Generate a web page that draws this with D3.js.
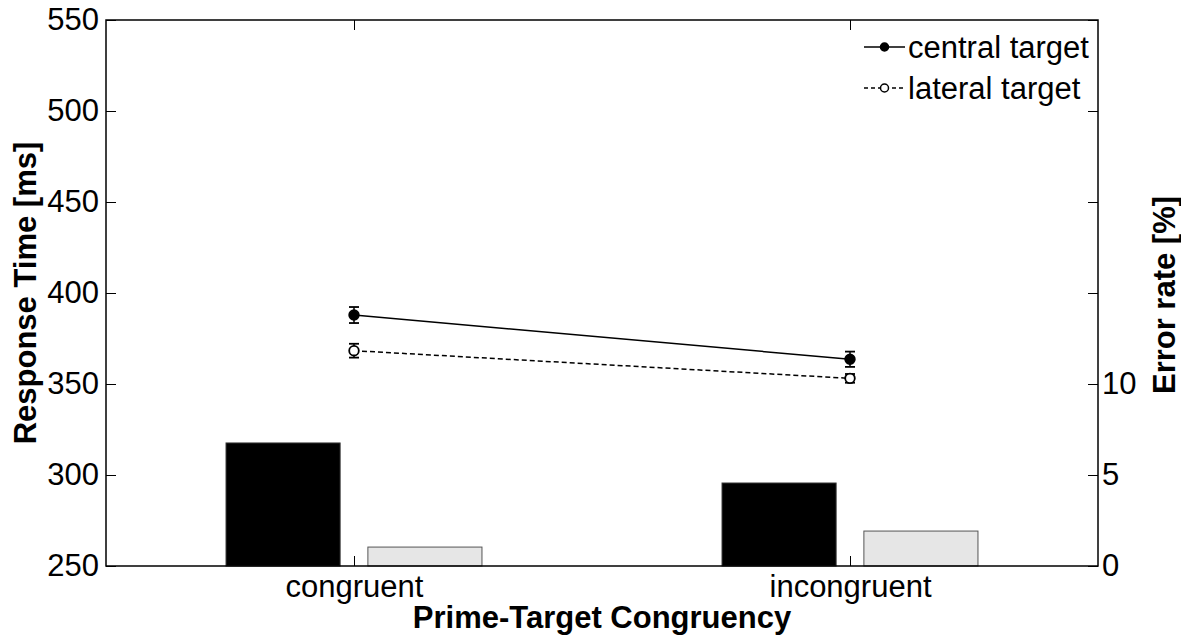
<!DOCTYPE html>
<html>
<head>
<meta charset="utf-8">
<script src="https://cdn.jsdelivr.net/npm/d3@7"></script>
<style>
  body { margin: 0; background: #fff; }
  svg text { font-family: "Liberation Sans", Arial, sans-serif; fill: #000; }
</style>
</head>
<body>
<script>
// data
var categories = ["congruent", "incongruent"];
var rtCentral = [387.9, 363.6];
var rtCentralErr = [4.4, 4.2];
var rtLateral = [368.3, 353.1];
var rtLateralErr = [3.8, 2.4];
var errCentral = [6.76, 4.56];
var errLateral = [1.04, 1.92];
var leftTicks = [250, 300, 350, 400, 450, 500, 550];
var rightTicks = [0, 5, 10];

var W = 1181, H = 644;
var plotL = 106, plotR = 1098, plotT = 20, plotB = 566;
var fs = "31px";

var svg = d3.select("body").append("svg")
    .attr("width", W)
    .attr("height", H);

var x = d3.scaleLinear().domain([0.5, 2.5]).range([plotL, plotR]);
var yL = d3.scaleLinear().domain([250, 550]).range([plotB, plotT]);
var yR = d3.scaleLinear().domain([0, 30]).range([plotB, plotT]);

var barOff = 0.143, barW = 0.23;

// bars (error rate, right axis)
var bars = svg.append("g");
categories.forEach(function(c, i) {
    var cx = i + 1;
    bars.append("rect")
        .attr("x", x(cx - barOff - barW / 2))
        .attr("width", x(cx - barOff + barW / 2) - x(cx - barOff - barW / 2))
        .attr("y", yR(errCentral[i]))
        .attr("height", yR(0) - yR(errCentral[i]))
        .attr("fill", "#000")
        .attr("stroke", "#333")
        .attr("stroke-width", 1);
    bars.append("rect")
        .attr("x", x(cx + barOff - barW / 2))
        .attr("width", x(cx + barOff + barW / 2) - x(cx + barOff - barW / 2))
        .attr("y", yR(errLateral[i]))
        .attr("height", yR(0) - yR(errLateral[i]))
        .attr("fill", "#e6e6e6")
        .attr("stroke", "#555")
        .attr("stroke-width", 1);
});

// axes box
svg.append("rect")
    .attr("x", plotL).attr("y", plotT)
    .attr("width", plotR - plotL).attr("height", plotB - plotT)
    .attr("fill", "none")
    .attr("stroke", "#000")
    .attr("stroke-width", 1.5);

// left axis
svg.append("g")
    .attr("transform", "translate(" + plotL + ",0)")
    .call(d3.axisLeft(yL).tickValues(leftTicks).tickSize(-10).tickPadding(7))
    .call(function(g) {
        g.select(".domain").remove();
        g.selectAll("text").style("font-size", fs);
    });

// mirrored ticks on right side
svg.append("g")
    .attr("transform", "translate(" + plotR + ",0)")
    .call(d3.axisRight(yL).tickValues(leftTicks).tickSize(-10).tickFormat(""))
    .call(function(g) { g.select(".domain").remove(); });

// right axis (error rate)
svg.append("g")
    .attr("transform", "translate(" + plotR + ",0)")
    .call(d3.axisRight(yR).tickValues(rightTicks).tickSize(-10).tickPadding(4))
    .call(function(g) {
        g.select(".domain").remove();
        g.selectAll("text").style("font-size", fs);
    });

// bottom axis
svg.append("g")
    .attr("transform", "translate(0," + plotB + ")")
    .call(d3.axisBottom(x).tickValues([1, 2]).tickSize(-10).tickPadding(9)
        .tickFormat(function(d) { return categories[d - 1]; }))
    .call(function(g) {
        g.select(".domain").remove();
        g.selectAll("text").style("font-size", fs);
    });

// top ticks
svg.append("g")
    .attr("transform", "translate(0," + plotT + ")")
    .call(d3.axisTop(x).tickValues([1, 2]).tickSize(-10).tickFormat(""))
    .call(function(g) { g.select(".domain").remove(); });

// axis titles
svg.append("text")
    .attr("x", (plotL + plotR) / 2)
    .attr("y", 628)
    .attr("text-anchor", "middle")
    .style("font-size", fs)
    .style("font-weight", "bold")
    .text("Prime-Target Congruency");

svg.append("text")
    .attr("transform", "translate(36," + ((plotT + plotB) / 2) + ") rotate(-90)")
    .attr("text-anchor", "middle")
    .style("font-size", fs)
    .style("font-weight", "bold")
    .text("Response Time [ms]");

svg.append("text")
    .attr("transform", "translate(1175,295) rotate(-90)")
    .attr("text-anchor", "middle")
    .style("font-size", fs)
    .style("font-weight", "bold")
    .text("Error rate [%]");

// response time lines
var series = [
    { vals: rtCentral, err: rtCentralErr, dash: null, fill: "#000" },
    { vals: rtLateral, err: rtLateralErr, dash: "5,3", fill: "#fff" }
];
var line = d3.line()
    .x(function(d, i) { return x(i + 1); })
    .y(function(d) { return yL(d); });

series.forEach(function(s) {
    var g = svg.append("g");
    g.append("path")
        .attr("d", line(s.vals))
        .attr("fill", "none")
        .attr("stroke", "#000")
        .attr("stroke-width", 1.5)
        .attr("stroke-dasharray", s.dash);
    s.vals.forEach(function(v, i) {
        var cx = x(i + 1);
        var y1 = yL(v + s.err[i]), y2 = yL(v - s.err[i]);
        g.append("line").attr("x1", cx).attr("x2", cx).attr("y1", y1).attr("y2", y2)
            .attr("stroke", "#000").attr("stroke-width", 1.5);
        [y1, y2].forEach(function(yy) {
            g.append("line").attr("x1", cx - 5).attr("x2", cx + 5).attr("y1", yy).attr("y2", yy)
                .attr("stroke", "#000").attr("stroke-width", 1.8);
        });
        g.append("circle").attr("cx", cx).attr("cy", yL(v)).attr("r", 4.8)
            .attr("fill", s.fill).attr("stroke", "#000").attr("stroke-width", 1.8);
    });
});

// legend
var legend = [
    { label: "central target", dash: null, fill: "#000", y: 47 },
    { label: "lateral target", dash: "4,3", fill: "#fff", y: 88 }
];
legend.forEach(function(l) {
    svg.append("line").attr("x1", 864).attr("x2", 905).attr("y1", l.y).attr("y2", l.y)
        .attr("stroke", "#000").attr("stroke-width", 1.5).attr("stroke-dasharray", l.dash);
    svg.append("circle").attr("cx", 884.5).attr("cy", l.y).attr("r", 4)
        .attr("fill", l.fill).attr("stroke", "#000").attr("stroke-width", 1.5);
    svg.append("text").attr("x", 908).attr("y", l.y).attr("dy", "0.35em")
        .style("font-size", fs).text(l.label);
});
</script>
</body>
</html>
